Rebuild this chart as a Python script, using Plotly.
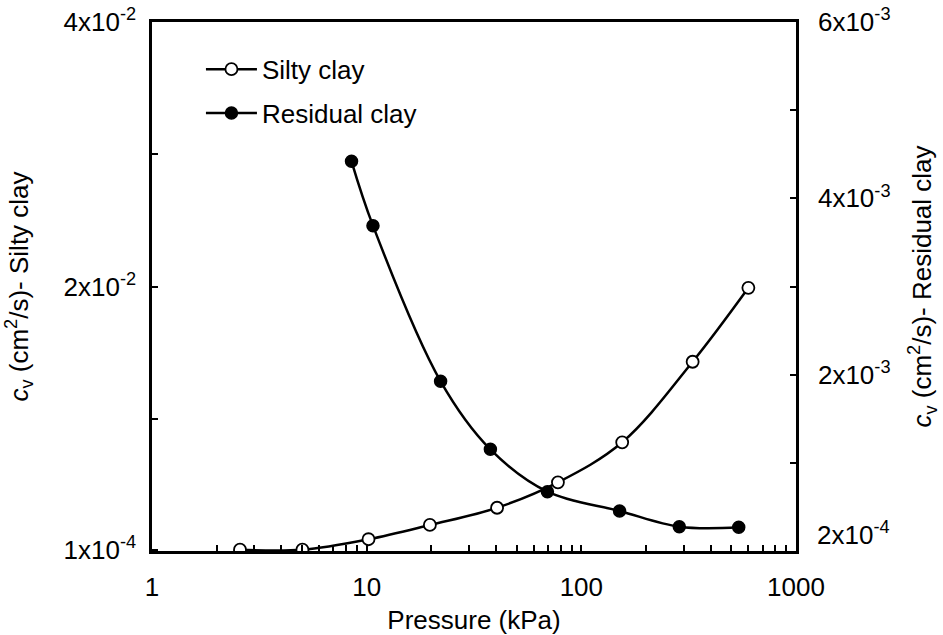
import plotly.graph_objects as go

# ---- data ----
silty_pressure = [2.57, 5.02, 10.2, 19.7, 40.5, 77.8, 155, 330, 600]
silty_cv = [1e-4, 1e-4, 8.9e-4, 1.97e-3, 3.27e-3, 5.19e-3, 8.22e-3, 1.431e-2, 1.99e-2]

residual_pressure = [8.5, 10.7, 22.1, 37.7, 69.5, 150.7, 286, 541]
residual_cv = [4.42e-3, 3.69e-3, 1.925e-3, 1.153e-3, 6.73e-4, 4.54e-4, 2.76e-4, 2.69e-4]

x_tickvals = [1, 10, 100, 1000]
x_ticktext = ["1", "10", "100", "1000"]
x_minor = [m * d for d in (1, 10, 100) for m in range(2, 10)]

left_tickvals = [1e-4, 0.01, 0.02, 0.03, 0.04]
left_ticktext = ["1x10<sup>-4</sup>", "", "2x10<sup>-2</sup>", "", "4x10<sup>-2</sup>"]

right_tickvals = [0, 1e-3, 2e-3, 3e-3, 4e-3, 5e-3, 6e-3]
right_ticktext = ["", "", "2x10<sup>-3</sup>", "", "4x10<sup>-3</sup>", "", "6x10<sup>-3</sup>"]
right_extra_val = 2e-4
right_extra_text = "2x10<sup>-4</sup>"

FONT = "Liberation Sans, Arial, sans-serif"
FS = 26

fig = go.Figure()
fig.add_trace(go.Scatter(
    x=silty_pressure, y=silty_cv, name="Silty clay", yaxis="y",
    mode="lines+markers", line=dict(color="black", width=2.5, shape="spline"),
    marker=dict(symbol="circle", size=12, color="white", line=dict(color="black", width=1.8)),
    legendgroup="a",
))
fig.add_trace(go.Scatter(
    x=residual_pressure, y=residual_cv, name="Residual clay", yaxis="y2",
    mode="lines+markers", line=dict(color="black", width=2.5, shape="spline"),
    marker=dict(symbol="circle", size=12, color="black", line=dict(color="black", width=1.5)),
    legendgroup="b",
))

axis_common = dict(showline=True, linecolor="black", linewidth=2.5, showgrid=False,
                   zeroline=False, ticks="inside", ticklen=6, tickwidth=2, tickcolor="black",
                   automargin=False,
                   tickfont=dict(family=FONT, size=FS, color="black"))

fig.update_layout(
    width=943, height=635,
    margin=dict(l=152, r=147, t=22, b=84, pad=0, autoexpand=False),
    paper_bgcolor="white", plot_bgcolor="white",
    font=dict(family=FONT, size=FS, color="black"),
    xaxis=dict(type="log", range=[0, 3], tickvals=x_tickvals, ticktext=x_ticktext,
               mirror=True, ticklabelstandoff=11,
               minor=dict(tickvals=x_minor, ticks="inside", ticklen=6, tickwidth=2, tickcolor="black"),
               title=dict(text="Pressure (kPa)", font=dict(family=FONT, size=FS), standoff=18),
               **axis_common),
    yaxis=dict(range=[0, 0.04], tickvals=left_tickvals, ticktext=left_ticktext,
               ticklabelstandoff=8,
               title=dict(text="<i>c</i><sub>v</sub> (cm<sup>2</sup>/s)- Silty clay",
                          font=dict(family=FONT, size=FS), standoff=28),
               **axis_common),
    yaxis2=dict(range=[0, 0.006], overlaying="y", side="right", anchor="x",
                tickvals=right_tickvals, ticktext=right_ticktext, ticklabelstandoff=14,
                title=dict(text="<i>c</i><sub>v</sub> (cm<sup>2</sup>/s)- Residual clay",
                           font=dict(family=FONT, size=FS), standoff=24),
                **axis_common),
    annotations=[dict(x=1, xref="paper", y=right_extra_val, yref="y2",
                      text=right_extra_text, showarrow=False, xanchor="left",
                      yanchor="middle", xshift=19,
                      font=dict(family=FONT, size=FS, color="black"))],
    legend=dict(x=0.076, y=0.955, xanchor="left", yanchor="top", bgcolor="rgba(0,0,0,0)",
                font=dict(family=FONT, size=FS, color="black"), itemwidth=51,
                tracegroupgap=7),
    showlegend=True,
)

fig.write_html("out.html")
